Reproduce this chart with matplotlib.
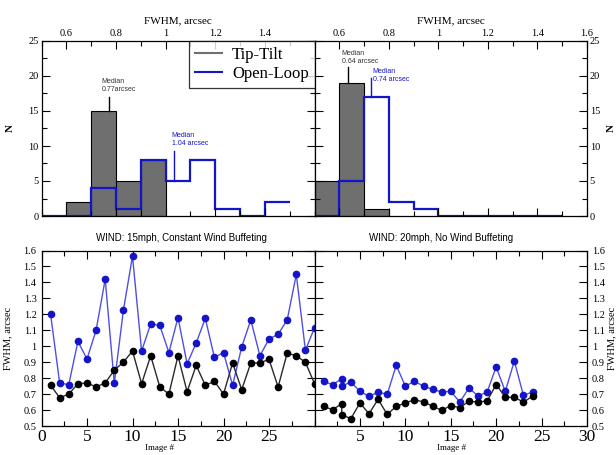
import numpy as np
import matplotlib
matplotlib.use("Agg")
import matplotlib.pyplot as plt
from matplotlib.ticker import MultipleLocator, FixedLocator

plt.rcParams['font.family'] = ['Liberation Serif', 'DejaVu Serif']

# --- histogram data (FWHM bins of 0.1 arcsec) ---
tt_edges_15 = [0.6, 0.7, 0.8, 0.9]
tt_counts_15 = [2, 15, 5, 8]
ol_edges_15 = [0.5, 0.6, 0.7, 0.8, 0.9, 1.0, 1.1, 1.2, 1.3, 1.4, 1.5]
ol_counts_15 = [0, 0, 4, 1, 8, 5, 8, 1, 0, 2]

tt_edges_20 = [0.5, 0.6, 0.7]
tt_counts_20 = [5, 19, 1]
ol_edges_20 = [0.5, 0.6, 0.7, 0.8, 0.9, 1.0, 1.1, 1.2, 1.3, 1.4, 1.5]
ol_counts_20 = [0, 5, 17, 2, 1, 0, 0, 0, 0, 0]

med_tt_15, med_ol_15 = 0.77, 1.035
med_tt_20, med_ol_20 = 0.637, 0.73

# --- per-image FWHM ---
img_15 = np.arange(1, 31)
tt_15 = [0.755, 0.677, 0.70, 0.765, 0.77, 0.745, 0.77, 0.85, 0.90, 0.97,
         0.765, 0.94, 0.745, 0.70, 0.94, 0.715, 0.88, 0.755, 0.78, 0.70,
         0.895, 0.728, 0.895, 0.895, 0.918, 0.745, 0.957, 0.94, 0.90, 0.765]
ol_15 = [1.20, 0.768, 0.76, 1.03, 0.92, 1.10, 1.42, 0.768, 1.225, 1.565,
         0.97, 1.14, 1.13, 0.96, 1.18, 0.89, 1.02, 1.175, 0.93, 0.96,
         0.755, 0.995, 1.165, 0.94, 1.045, 1.075, 1.165, 1.45, 0.975, 1.115]

img_20 = [1, 2, 3, 3, 4, 5, 6, 7, 8, 9, 10, 11, 12, 13, 14, 15, 16, 17,
          18, 19, 20, 21, 22, 23, 24]
tt_20 = [0.623, 0.602, 0.64, 0.571, 0.546, 0.644, 0.577, 0.667, 0.573, 0.623,
         0.644, 0.665, 0.65, 0.625, 0.598, 0.628, 0.615, 0.655, 0.65, 0.657,
         0.76, 0.68, 0.68, 0.65, 0.686]
ol_20 = [0.78, 0.759, 0.796, 0.75, 0.776, 0.717, 0.686, 0.713, 0.698, 0.88,
         0.75, 0.78, 0.75, 0.73, 0.713, 0.717, 0.65, 0.738, 0.688, 0.713,
         0.87, 0.717, 0.907, 0.692, 0.713]

yticks_p = [0.5, 0.6, 0.7, 0.8, 0.9, 1.0, 1.1, 1.2, 1.3, 1.4, 1.5, 1.6]
ylabels_p = ['0.5', '0.6', '0.7', '0.8', '0.9', '1', '1.1', '1.2', '1.3', '1.4', '1.5', '1.6']

gray = '#6f6f6f'
blue = '#1414c8'

W, H = 616, 455
fig = plt.figure(figsize=(W / 100, H / 100), dpi=100)

x0, xm, x1 = 41.5, 314.5, 587
def box(l, r, t, b):
    return [l / W, 1 - b / H, (r - l) / W, (b - t) / H]

ax_h1 = fig.add_axes(box(x0, xm, 41, 216))
ax_h2 = fig.add_axes(box(xm, x1, 41, 216))
ax_p1 = fig.add_axes(box(x0, xm, 250.5, 426))
ax_p2 = fig.add_axes(box(xm, x1, 250.5, 426))

def style(ax):
    ax.tick_params(which='both', direction='in', top=True, bottom=True,
                   left=True, right=True, labelsize=7.5, width=0.8)
    ax.tick_params(which='major', length=6)
    ax.tick_params(which='minor', length=3.5)
    for s in ax.spines.values():
        s.set_linewidth(0.9)

# --- histograms ---
for ax, tte, ttc, ole, olc in [(ax_h1, tt_edges_15, tt_counts_15, ol_edges_15, ol_counts_15),
                               (ax_h2, tt_edges_20, tt_counts_20, ol_edges_20, ol_counts_20)]:
    ax.bar(tte, ttc, width=0.1, align='edge', color=gray, edgecolor='black', lw=0.8)
    ax.stairs(olc, ole, baseline=None, color=blue, lw=1.6)
    ax.set_xlim(0.5, 1.6)
    ax.set_ylim(0, 25)
    style(ax)
    ax.xaxis.set_minor_locator(MultipleLocator(0.1))
    ax.yaxis.set_major_locator(MultipleLocator(5))
    ax.yaxis.set_minor_locator(MultipleLocator(2.5))
    ax.tick_params(labelbottom=False, labeltop=True, pad=2)
    ax.xaxis.set_label_position('top')
    ax.set_xlabel('FWHM, arcsec', fontsize=8, labelpad=4)
    ax.set_ylabel('N', fontsize=8, fontweight='bold', rotation=90)

ax_h1.xaxis.set_major_locator(FixedLocator([0.6, 0.8, 1.0, 1.2, 1.4]))
ax_h1.set_xticklabels(['0.6', '0.8', '1', '1.2', '1.4'])
ax_h1.tick_params(labelleft=True, labelright=False)
ax_h1.yaxis.set_label_coords(-0.097, 0.5)

ax_h2.xaxis.set_major_locator(FixedLocator([0.6, 0.8, 1.0, 1.2, 1.4, 1.6]))
ax_h2.set_xticklabels(['0.6', '0.8', '1', '1.2', '1.4', '1.6'])
ax_h2.tick_params(labelleft=False, labelright=True)
ax_h2.yaxis.set_label_position('right')
ax_h2.yaxis.set_label_coords(1.072, 0.5)

sans = dict(family=['Liberation Sans', 'DejaVu Sans'])
# median markers
ax_h1.plot([med_tt_15, med_tt_15], [15, 17], color='black', lw=1)
ax_h1.text(0.742, 17.6, 'Median\n0.77arcsec', fontsize=5, ha='left', va='bottom',
           color='#333333', linespacing=1.1, **sans)
ax_h1.plot([med_ol_15, med_ol_15], [5, 9.3], color=blue, lw=1)
ax_h1.text(1.024, 9.9, 'Median\n1.04 arcsec', fontsize=5, ha='left', va='bottom',
           color=blue, linespacing=1.1, **sans)
ax_h2.plot([med_tt_20, med_tt_20], [19, 21.3], color='black', lw=1)
ax_h2.text(0.61, 21.6, 'Median\n0.64 arcsec', fontsize=5, ha='left', va='bottom',
           color='#333333', linespacing=1.1, **sans)
ax_h2.plot([med_ol_20, med_ol_20], [17, 19.7], color=blue, lw=1)
ax_h2.text(0.735, 19.0, 'Median\n0.74 arcsec', fontsize=5, ha='left', va='bottom',
           color=blue, linespacing=1.1, **sans)

leg = ax_h1.legend(handles=[plt.Line2D([], [], color=gray, lw=1.5),
                            plt.Line2D([], [], color=blue, lw=1.5)],
                   labels=['Tip-Tilt', 'Open-Loop'], loc='upper right',
                   fontsize=12, frameon=True, fancybox=False, borderaxespad=0,
                   handlelength=1.6, handletextpad=0.6, borderpad=0.35,
                   labelspacing=0.2)
leg.get_frame().set_edgecolor('black')
leg.get_frame().set_linewidth(0.9)

ax_h1.text(0.511, -0.125, 'WIND: 15mph, Constant Wind Buffeting', transform=ax_h1.transAxes,
           ha='center', va='center', fontsize=7, **sans)
ax_h2.text(0.464, -0.125, 'WIND: 20mph, No Wind Buffeting', transform=ax_h2.transAxes,
           ha='center', va='center', fontsize=7, **sans)

# --- per-image plots ---
for ax, xs, tt, ol in [(ax_p1, img_15, tt_15, ol_15), (ax_p2, img_20, tt_20, ol_20)]:
    ax.plot(xs, ol, '-', color='#4f4fe6', lw=1)
    ax.plot(xs, ol, 'o', color=blue, ms=4.5, mec=blue, ls='none')
    ax.plot(xs, tt, '-', color='#2a2a2a', lw=1)
    ax.plot(xs, tt, 'o', color='black', ms=4.5, ls='none')
    ax.set_xlim(0, 30)
    ax.set_ylim(0.5, 1.6)
    style(ax)
    ax.xaxis.set_minor_locator(MultipleLocator(2.5))
    ax.set_yticks(yticks_p)
    ax.set_yticklabels(ylabels_p)
    ax.tick_params(axis='x', labelsize=12.5, pad=2)
    ax.set_xlabel('Image #', fontsize=6.5)
    ax.set_ylabel('FWHM, arcsec', fontsize=7.5)

ax_p1.xaxis.set_major_locator(FixedLocator([0, 5, 10, 15, 20, 25]))
ax_p1.set_xticklabels(['0', '5', '10', '15', '20', '25'])
ax_p1.xaxis.set_label_coords(0.434, -0.104)
ax_p1.yaxis.set_label_coords(-0.108, 0.5)

ax_p2.xaxis.set_major_locator(FixedLocator([5, 10, 15, 20, 25, 30]))
ax_p2.set_xticklabels(['5', '10', '15', '20', '25', '30'])
ax_p2.tick_params(labelleft=False, labelright=True)
ax_p2.yaxis.set_label_position('right')
ax_p2.xaxis.set_label_coords(0.503, -0.104)
ax_p2.yaxis.set_label_coords(1.074, 0.5)

fig.savefig('out.png', dpi=100)
